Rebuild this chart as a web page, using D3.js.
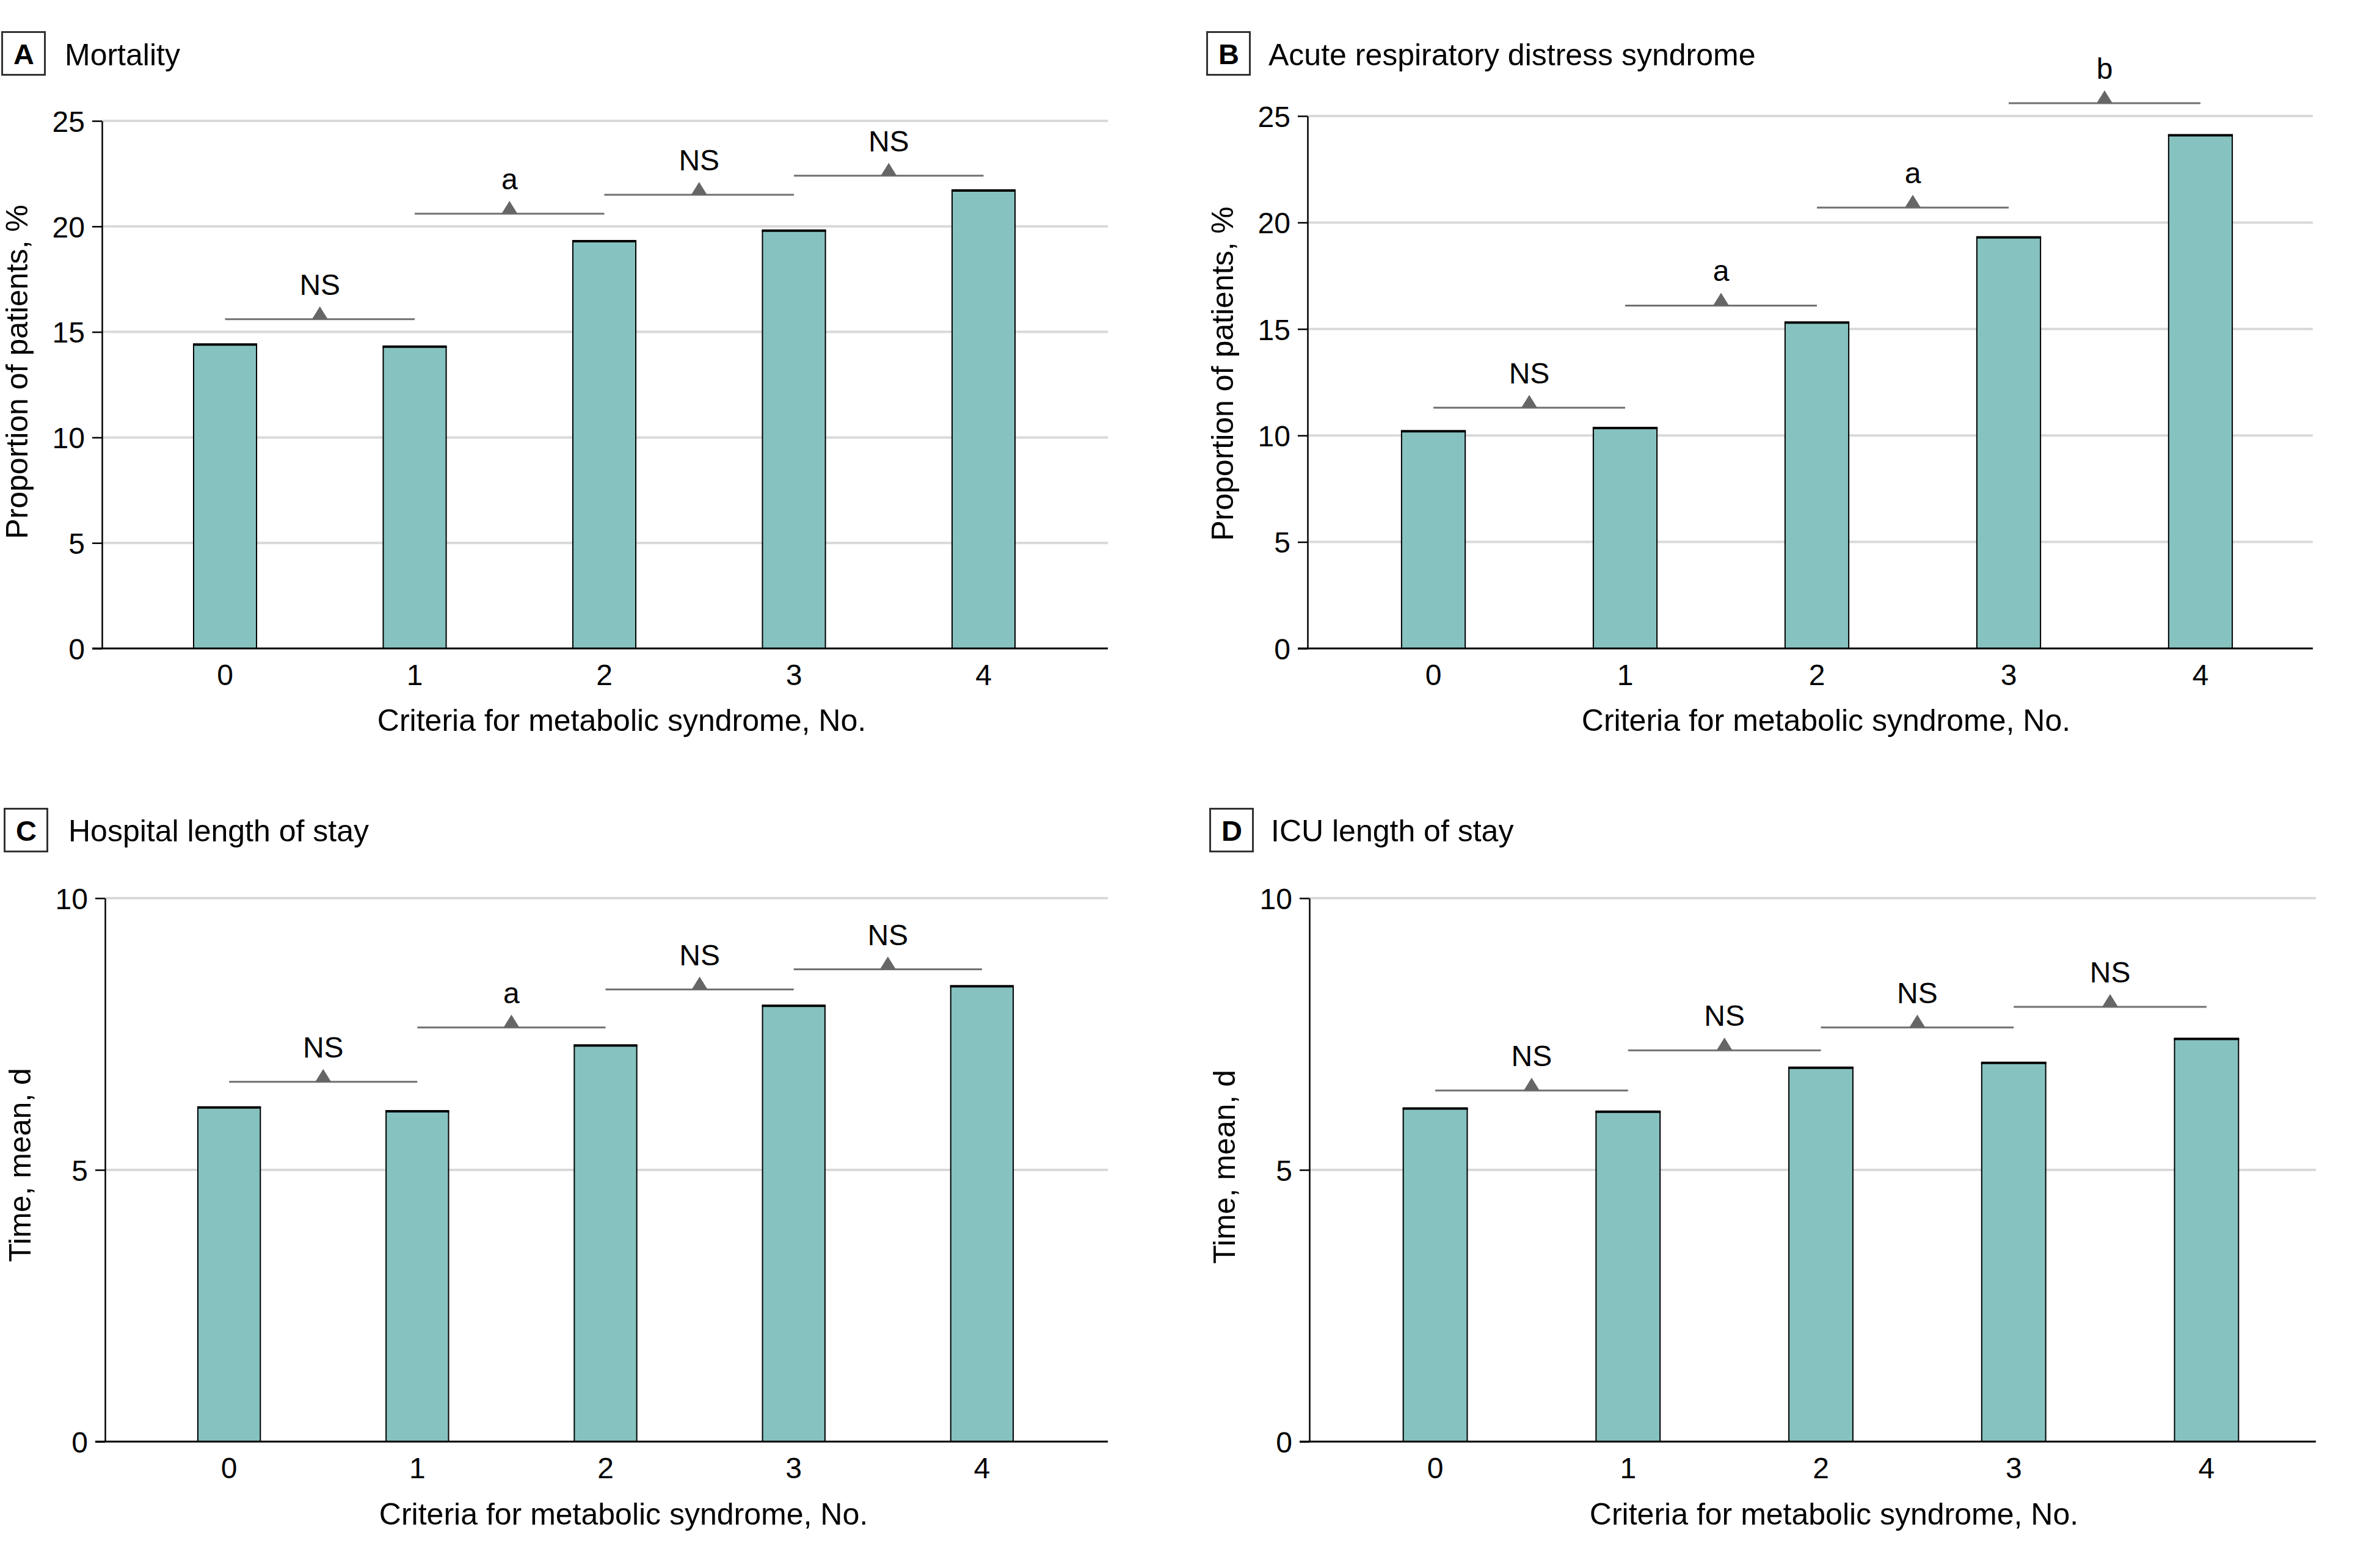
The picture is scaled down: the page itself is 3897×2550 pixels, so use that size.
<!DOCTYPE html>
<html><head><meta charset="utf-8">
<script src="https://cdn.jsdelivr.net/npm/d3@7/dist/d3.min.js"></script>
<style>
body{margin:0;background:#fff;}
svg text{font-family:"Liberation Sans",Arial,sans-serif;fill:#000;}
</style></head><body>
<svg id="chart" width="3897" height="2550"></svg>
<script>
// ---------- data ----------
const categories = ["0", "1", "2", "3", "4"];
const pctTicks = [0, 5, 10, 15, 20, 25];
const dayTicks = [0, 5, 10];

const mortality = [14.4, 14.3, 19.3, 19.8, 21.7];
const mortalityAnnot = ["NS", "a", "NS", "NS"];
const mortalityAnnotY = [15.6, 20.6, 21.5, 22.4];

const ards = [10.2, 10.35, 15.3, 19.3, 24.1];
const ardsAnnot = ["NS", "a", "a", "b"];
const ardsAnnotY = [11.3, 16.1, 20.7, 25.6];

const hospitalLOS = [6.15, 6.08, 7.29, 8.02, 8.38];
const hospitalAnnot = ["NS", "a", "NS", "NS"];
const hospitalAnnotY = [6.62, 7.62, 8.32, 8.69];

const icuLOS = [6.13, 6.07, 6.88, 6.97, 7.41];
const icuAnnot = ["NS", "NS", "NS", "NS"];
const icuAnnotY = [6.46, 7.2, 7.62, 8.0];

const panelLetters = ["A", "B", "C", "D"];
const panelTitles = ["Mortality", "Acute respiratory distress syndrome", "Hospital length of stay", "ICU length of stay"];
const yLabels = ["Proportion of patients, %", "Proportion of patients, %", "Time, mean, d", "Time, mean, d"];
const xLabel = "Criteria for metabolic syndrome, No.";

// ---------- layout ----------
const panels = [
  {values: mortality, annot: mortalityAnnot, annotY: mortalityAnnotY, ticks: pctTicks, domain: [0, 25],
   box: [2, 51], titleX: 106, titleY: 107, axisX: 167, gridRight: 1814, y0: 1062, yTop: 198,
   band: [166.4, 1812.6], yLabX: 45, yLabY: 609, xLabX: 1018, xLabY: 1197},
  {values: ards, annot: ardsAnnot, annotY: ardsAnnotY, ticks: pctTicks, domain: [0, 25],
   box: [1975, 51], titleX: 2077, titleY: 107, axisX: 2141, gridRight: 3787, y0: 1062, yTop: 190,
   band: [2142.6, 3807.4], yLabX: 2019, yLabY: 612, xLabX: 2990, xLabY: 1197},
  {values: hospitalLOS, annot: hospitalAnnot, annotY: hospitalAnnotY, ticks: dayTicks, domain: [0, 10],
   box: [6, 1323], titleX: 112, titleY: 1378, axisX: 172, gridRight: 1814, y0: 2361, yTop: 1471,
   band: [174.5, 1808.5], yLabX: 50, yLabY: 1908, xLabX: 1021, xLabY: 2497},
  {values: icuLOS, annot: icuAnnot, annotY: icuAnnotY, ticks: dayTicks, domain: [0, 10],
   box: [1980, 1323], titleX: 2081, titleY: 1378, axisX: 2144, gridRight: 3792, y0: 2361, yTop: 1471,
   band: [2144.5, 3818.5], yLabX: 2022, yLabY: 1911, xLabX: 3003, xLabY: 2497}
];

const svg = d3.select("#chart");
const BAR_FILL = "#86c2c0";
const GRID = "#d9d9d9";
const BRACKET = "#707070";

panels.forEach((p, k) => {
  const g = svg.append("g");
  const x = d3.scaleBand().domain(categories).range(p.band).paddingInner(0.668).paddingOuter(0.485);
  const y = d3.scaleLinear().domain(p.domain).range([p.y0, p.yTop]);

  // panel letter box + title
  g.append("rect").attr("x", p.box[0] + 1.5).attr("y", p.box[1] + 1.5).attr("width", 70).attr("height", 70)
    .attr("fill", "none").attr("stroke", "#333").attr("stroke-width", 3);
  g.append("text").attr("x", p.box[0] + 37).attr("y", p.box[1] + 54).attr("text-anchor", "middle")
    .style("font-size", "47px").style("font-weight", "bold")
    .text(panelLetters[k]);
  g.append("text").attr("x", p.titleX).attr("y", p.titleY).style("font-size", "50px").text(panelTitles[k]);

  // gridlines
  g.append("g").selectAll("line").data(p.ticks.filter(t => t > 0)).join("line")
    .attr("x1", p.axisX).attr("x2", p.gridRight)
    .attr("y1", d => y(d)).attr("y2", d => y(d))
    .attr("stroke", GRID).attr("stroke-width", 4);

  // bars
  g.append("g").selectAll("rect").data(p.values).join("rect")
    .attr("x", (d, i) => x(categories[i])).attr("width", x.bandwidth())
    .attr("y", d => y(d)).attr("height", d => y(0) - y(d))
    .attr("fill", BAR_FILL).attr("stroke", "#000").attr("stroke-width", 2);
  g.append("g").selectAll("line").data(p.values).join("line")
    .attr("x1", (d, i) => x(categories[i]) - 1).attr("x2", (d, i) => x(categories[i]) + x.bandwidth() + 1)
    .attr("y1", d => y(d)).attr("y2", d => y(d))
    .attr("stroke", "#000").attr("stroke-width", 4);

  // y axis
  const yAxis = d3.axisLeft(y).tickValues(p.ticks).tickSize(16).tickSizeOuter(0).tickPadding(12).tickFormat(d3.format("d"));
  const ya = g.append("g").attr("transform", `translate(${p.axisX},0)`).call(yAxis);
  ya.select(".domain").attr("stroke", "#000").attr("stroke-width", 2.5);
  ya.selectAll(".tick line").attr("stroke", "#000").attr("stroke-width", 2.5);
  ya.selectAll(".tick text").style("font-size", "48px").attr("dy", "0.36em");

  // x axis
  const xAxis = d3.axisBottom(x).tickSize(0).tickPadding(26);
  const xa = g.append("g").attr("transform", `translate(0,${p.y0})`).call(xAxis);
  xa.select(".domain").remove();
  xa.selectAll(".tick text").style("font-size", "48px");
  g.append("line").attr("x1", p.axisX - 16).attr("x2", p.gridRight)
    .attr("y1", p.y0).attr("y2", p.y0).attr("stroke", "#000").attr("stroke-width", 3);

  // significance brackets
  const ann = g.append("g");
  p.annot.forEach((lab, i) => {
    const xa1 = x(categories[i]) + x.bandwidth() / 2;
    const xa2 = x(categories[i + 1]) + x.bandwidth() / 2;
    const xm = (xa1 + xa2) / 2;
    const yy = y(p.annotY[i]);
    ann.append("line").attr("x1", xa1).attr("x2", xa2).attr("y1", yy).attr("y2", yy)
      .attr("stroke", BRACKET).attr("stroke-width", 3);
    ann.append("path").attr("d", `M${xm - 13},${yy} L${xm},${yy - 21} L${xm + 13},${yy} Z`).attr("fill", "#666");
    ann.append("text").attr("x", xm).attr("y", yy - 40).attr("text-anchor", "middle")
      .style("font-size", "48px").text(lab);
  });

  // axis titles
  g.append("text").attr("transform", `translate(${p.yLabX},${p.yLabY}) rotate(-90)`)
    .attr("text-anchor", "middle").style("font-size", "50px").text(yLabels[k]);
  g.append("text").attr("x", p.xLabX).attr("y", p.xLabY).attr("text-anchor", "middle")
    .style("font-size", "50px").text(xLabel);
});
</script>
</body></html>
